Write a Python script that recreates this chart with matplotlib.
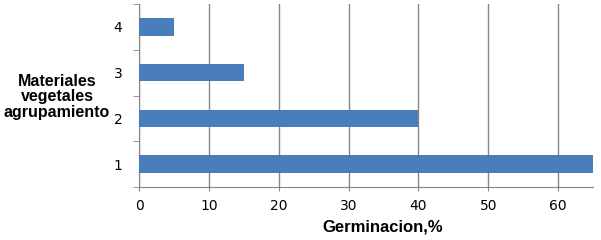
import matplotlib.pyplot as plt

# Data
categories = ["1", "2", "3", "4"]
germinacion = [65, 40, 15, 5]
x_ticks = [0, 10, 20, 30, 40, 50, 60]

bar_color = "#4a7ebb"
grid_color = "#868686"

fig = plt.figure(figsize=(6.01, 2.40), dpi=100)
ax = fig.add_axes([139 / 601, 1 - 187 / 240, (593 - 139) / 601, (187 - 4) / 240])

pos = list(range(len(categories)))
ax.barh(pos, germinacion, height=0.38, color=bar_color, zorder=3)

ax.set_xlim(0, 65)
ax.set_ylim(-0.5, len(categories) - 0.5)
ax.set_xticks(x_ticks)
ax.set_xticklabels([str(t) for t in x_ticks], fontsize=10)
ax.set_yticks(pos)
ax.set_yticklabels(categories, fontsize=10)

# category boundary ticks on the y axis
ax.set_yticks([p - 0.5 for p in pos] + [len(categories) - 0.5], minor=True)
ax.tick_params(axis="y", which="major", length=0, pad=12)
ax.tick_params(axis="y", which="minor", length=4, color=grid_color, direction="out")
ax.tick_params(axis="x", length=3, color=grid_color, pad=6)

ax.grid(axis="x", color=grid_color, linewidth=1, zorder=0)
for side in ["top", "right"]:
    ax.spines[side].set_visible(False)
for side in ["left", "bottom"]:
    ax.spines[side].set_color(grid_color)

# axis titles
fig.text(383 / 601, 1 - 227 / 240, "Germinacion,%", fontsize=12, fontweight="bold",
         family="Liberation Sans", ha="center", va="center")
fig.text(57 / 601, 1 - 97 / 240, "Materiales\nvegetales\nagrupamiento", fontsize=11.5,
         fontweight="bold", family="Liberation Sans", ha="center", va="center",
         multialignment="center", linespacing=1.0)

plt.savefig("out.png", dpi=100)
plt.close()
